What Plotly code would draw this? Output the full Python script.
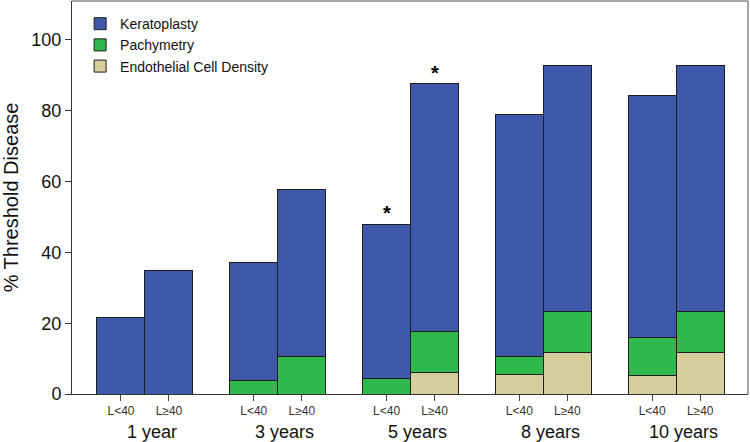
import plotly.graph_objects as go

groups = ["1 year", "3 years", "5 years", "8 years", "10 years"]
subgroups = ["L<40", "L\u226540"]
# layer values (percent) per bar, order: group x subgroup
ecd = [0, 0, 0, 0, 0, 6.0, 5.5, 11.8, 5.3, 11.8]
pachy = [0, 0, 3.9, 10.6, 4.4, 11.6, 5.1, 11.6, 10.6, 11.6]
kerato = [21.5, 35.0, 33.3, 47.3, 43.5, 70.0, 68.3, 69.5, 68.4, 69.5]
starred = [4, 5]  # bar indices with asterisk

GROUP_STEP = 2.766
xs = []
labels = []
for gi, g in enumerate(groups):
    for si, s in enumerate(subgroups):
        xs.append(gi * GROUP_STEP + (si - 0.5))
        labels.append(s)

line = dict(color="#1e1e1e", width=1)
fig = go.Figure()
fig.add_trace(go.Bar(x=xs, y=ecd, width=1, name="Endothelial Cell Density",
                     marker=dict(color="#d6cf9d", line=line)))
fig.add_trace(go.Bar(x=xs, y=pachy, width=1, name="Pachymetry",
                     marker=dict(color="#2fb84b", line=line)))
fig.add_trace(go.Bar(x=xs, y=kerato, width=1, name="Keratoplasty",
                     marker=dict(color="#3f59aa", line=line)))

totals = [a + b + c for a, b, c in zip(ecd, pachy, kerato)]
for i in starred:
    fig.add_annotation(x=xs[i], y=totals[i], text="<b>*</b>", showarrow=False,
                       yanchor="bottom", font=dict(size=20, color="black"), yshift=-2)

for gi, g in enumerate(groups):
    fig.add_annotation(x=gi * GROUP_STEP, y=-0.097, xref="x", yref="paper", text=g,
                       showarrow=False, xshift=7, yanchor="middle",
                       font=dict(size=18, color="#111"))

fig.update_layout(
    width=750, height=442,
    barmode="stack",
    margin=dict(l=72, r=2, t=1, b=48),
    paper_bgcolor="white", plot_bgcolor="white",
    font=dict(family="Liberation Sans, Arial, sans-serif", color="#111"),
    showlegend=True,
    legend=dict(x=0.012, y=0.982, xanchor="left", yanchor="top",
                traceorder="reversed", font=dict(size=14, color="#111"),
                bgcolor="rgba(0,0,0,0)", tracegroupgap=0),
    xaxis=dict(range=[-1.52, 12.56], tickmode="array", tickvals=xs, ticktext=labels,
               ticks="outside", ticklen=6, tickcolor="#444", tickfont=dict(size=12, color="#333"),
               showline=True, linecolor="#333", linewidth=1, showgrid=False, zeroline=False),
    yaxis=dict(range=[0, 111], tickvals=[0, 20, 40, 60, 80, 100], ticks="outside",
               ticklen=6, tickcolor="#333", tickfont=dict(size=18, color="#111"),
               showline=True, linecolor="#333", linewidth=1, showgrid=False, zeroline=False,
               title=dict(text="% Threshold Disease", font=dict(size=20, color="#111"), standoff=8)),
    shapes=[
        dict(type="line", xref="paper", yref="paper", x0=0, x1=1, y0=1, y1=1,
             line=dict(color="#888", width=1.5)),
        dict(type="line", xref="paper", yref="paper", x0=1, x1=1, y0=0, y1=1,
             line=dict(color="#888", width=1.5)),
    ],
)

fig.write_html("out.html", config={"displayModeBar": False},
               post_script="document.body.style.margin='0px';")
